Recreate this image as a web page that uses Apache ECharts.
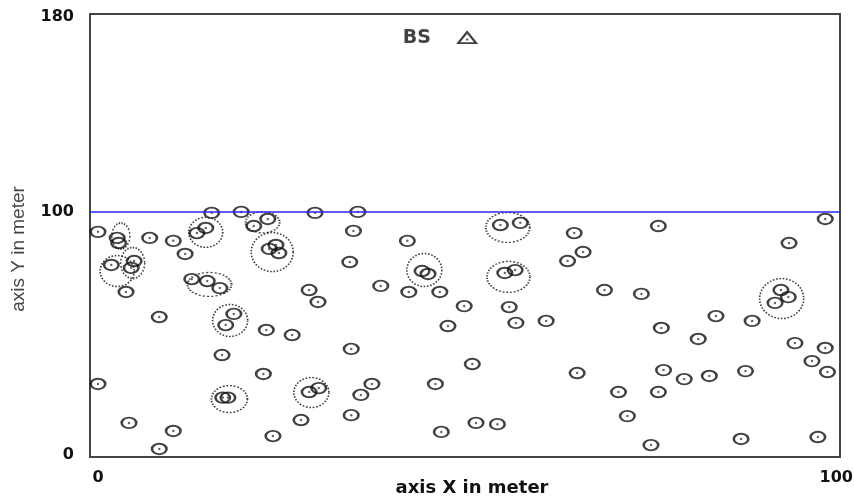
<!DOCTYPE html>
<html>
<head>
<meta charset="utf-8">
<script src="https://cdn.jsdelivr.net/npm/echarts@6.0.0/dist/echarts.min.js"></script>
<style>
    html, body { margin: 0; padding: 0; background: #fff; }
    #scatter { width: 854px; height: 496px; }
</style>
</head>
<body>
<div id="scatter"></div>
<script>
// sensor node positions (meter)
const nodeX = [0, 2.6, 2.8, 7.0, 10.2, 11.8, 1.8, 4.9, 4.5, 3.8,
    8.3, 0, 4.2, 10.2, 8.3, 12.7, 14.8, 16.5, 13.4, 14.6,
    15.4, 19.4, 21.1, 23.0, 29.4, 23.2, 24.1, 24.5, 28.6, 29.8,
    18.4, 17.3, 22.8, 26.3, 16.8, 22.4, 16.9, 17.6, 28.6, 29.9,
    27.5, 23.7, 35.2, 34.6, 41.9, 34.1, 43.9, 44.7, 38.3, 42.1,
    46.3, 49.6, 47.4, 34.3, 37.1, 35.6, 45.7, 34.3, 46.5, 54.5,
    57.2, 64.5, 65.7, 63.6, 55.1, 56.5, 55.7, 56.6, 60.7, 50.7,
    64.9, 51.2, 54.1, 75.9, 68.6, 73.6, 76.3, 81.3, 76.6, 79.4,
    82.8, 70.5, 75.9, 71.7, 74.9, 98.5, 93.6, 92.5, 91.7, 93.5,
    83.7, 88.6, 94.4, 98.5, 96.7, 98.8, 87.7, 87.1, 97.5];
const nodeY = [91.7, 89.2, 87.1, 89.2, 88.0, 82.6, 78.1, 79.7, 76.9, 67.0,
    56.7, 29.2, 13.2, 9.9, 2.5, 72.3, 71.5, 68.6, 91.2, 93.3,
    99.5, 99.9, 94.1, 97.0, 99.5, 84.7, 86.3, 83.0, 67.8, 62.9,
    58.0, 53.4, 51.4, 49.3, 41.1, 33.3, 23.6, 23.6, 25.9, 27.5,
    14.4, 7.8, 99.9, 92.1, 88.0, 79.3, 75.6, 74.4, 69.5, 67.0,
    67.0, 61.2, 53.0, 43.6, 29.2, 24.7, 29.2, 16.4, 9.5, 94.5,
    95.4, 91.2, 83.4, 79.7, 74.8, 76.0, 60.8, 54.3, 55.1, 37.4,
    33.7, 13.2, 12.7, 94.1, 67.8, 66.2, 52.2, 47.7, 34.9, 31.2,
    32.5, 25.9, 25.9, 16.0, 4.1, 97.0, 87.1, 67.8, 62.5, 64.9,
    57.1, 55.1, 46.0, 44.0, 38.6, 34.1, 34.5, 6.6, 7.4];

// cluster centres (meter)
const clusterX = [3.1, 2.6, 4.7, 15.1, 14.6, 22.3, 23.6, 17.9, 17.8, 28.9, 44.2, 55.5, 55.6, 92.6];
const clusterY = [90.0, 75.6, 78.9, 70.1, 91.5, 95.6, 83.4, 55.3, 23.0, 25.7, 76.0, 93.5, 73.2, 64.3];

// base station
const bsX = [50];
const bsY = [171.5];
const bsName = ['BS'];

const rangeLine = 100;
const xTicks = [0, 100];
const yTicks = [0, 100, 180];

// ring size of each cluster in px
const clusterRing = [[18, 26], [34, 31], [24, 31], [44, 24], [34, 30], [34, 21], [42, 39],
    [35, 32], [36, 27], [35, 30], [35, 33], [44, 30], [43, 31], [44, 40]];

let nodes = [];
for (let i = 0; i < nodeX.length; i++) {
    nodes.push([nodeX[i], nodeY[i]]);
}
let clusters = [];
for (let i = 0; i < clusterX.length; i++) {
    clusters.push({value: [clusterX[i], clusterY[i]], symbolSize: clusterRing[i]});
}
let bs = [];
for (let i = 0; i < bsX.length; i++) {
    bs.push({value: [bsX[i], bsY[i]], name: bsName[i]});
}

const tickFont = {
    fontFamily: 'DejaVu Sans',
    fontWeight: 'bold',
    fontSize: 16,
    color: '#111'
};

let chart = echarts.init(document.getElementById('scatter'));
chart.setOption({
    animation: false,
    grid: {
        left: 90,
        top: 14,
        width: 750,
        height: 443,
        outerBoundsMode: 'none',
        show: true,
        borderColor: '#444',
        borderWidth: 2
    },
    xAxis: {
        type: 'value',
        min: -1.08,
        max: 100.5,
        name: 'axis X in meter',
        nameLocation: 'middle',
        nameGap: 22,
        nameMoveOverlap: false,
        nameTextStyle: {
            fontFamily: 'DejaVu Sans',
            fontWeight: 'bold',
            fontSize: 18,
            color: '#111',
            padding: [0, 0, 0, 14]
        },
        splitLine: {show: false},
        axisTick: {show: false},
        axisLine: {onZero: false, lineStyle: {color: '#444', width: 2}},
        axisLabel: Object.assign({customValues: xTicks, margin: 13}, tickFont)
    },
    yAxis: {
        type: 'value',
        min: -0.8,
        max: 181.2,
        name: 'axis Y in meter',
        nameLocation: 'middle',
        nameGap: 62,
        nameMoveOverlap: false,
        nameTextStyle: {
            fontFamily: 'Liberation Sans',
            fontSize: 19,
            color: '#444',
            padding: [0, 27, 0, 0]
        },
        splitLine: {show: false},
        axisTick: {show: false},
        axisLine: {onZero: false, lineStyle: {color: '#444', width: 2}},
        axisLabel: Object.assign({customValues: yTicks, margin: 16}, tickFont)
    },
    series: [
        {
            name: 'node',
            type: 'scatter',
            symbol: 'circle',
            symbolSize: [14.5, 10.5],
            itemStyle: {
                color: 'rgba(0,0,0,0)',
                borderColor: '#111',
                borderWidth: 2.2
            },
            data: nodes,
            markLine: {
                silent: true,
                symbol: 'none',
                label: {show: false},
                lineStyle: {color: '#2626ff', width: 1.5, type: 'solid'},
                data: [{yAxis: rangeLine}]
            }
        },
        {
            name: 'node centre',
            type: 'scatter',
            symbolSize: 2.5,
            itemStyle: {color: '#444'},
            data: nodes
        },
        {
            name: 'cluster',
            type: 'scatter',
            symbol: 'circle',
            itemStyle: {
                color: 'rgba(0,0,0,0)',
                borderColor: '#111',
                borderWidth: 1.6,
                borderType: 'dotted'
            },
            data: clusters
        },
        {
            name: 'base station',
            type: 'scatter',
            symbol: 'triangle',
            symbolSize: [18, 11],
            itemStyle: {
                color: 'rgba(0,0,0,0)',
                borderColor: '#111',
                borderWidth: 2
            },
            label: {
                show: true,
                position: 'left',
                distance: 26,
                formatter: '{b}',
                fontFamily: 'DejaVu Sans',
                fontWeight: 'bold',
                fontSize: 19,
                color: '#111'
            },
            data: bs
        },
        {
            name: 'base station centre',
            type: 'scatter',
            symbolSize: 2.5,
            symbolOffset: [0, 2],
            itemStyle: {color: '#444'},
            data: bs.map(function (d) { return d.value; })
        }
    ]
});
</script>
</body>
</html>
